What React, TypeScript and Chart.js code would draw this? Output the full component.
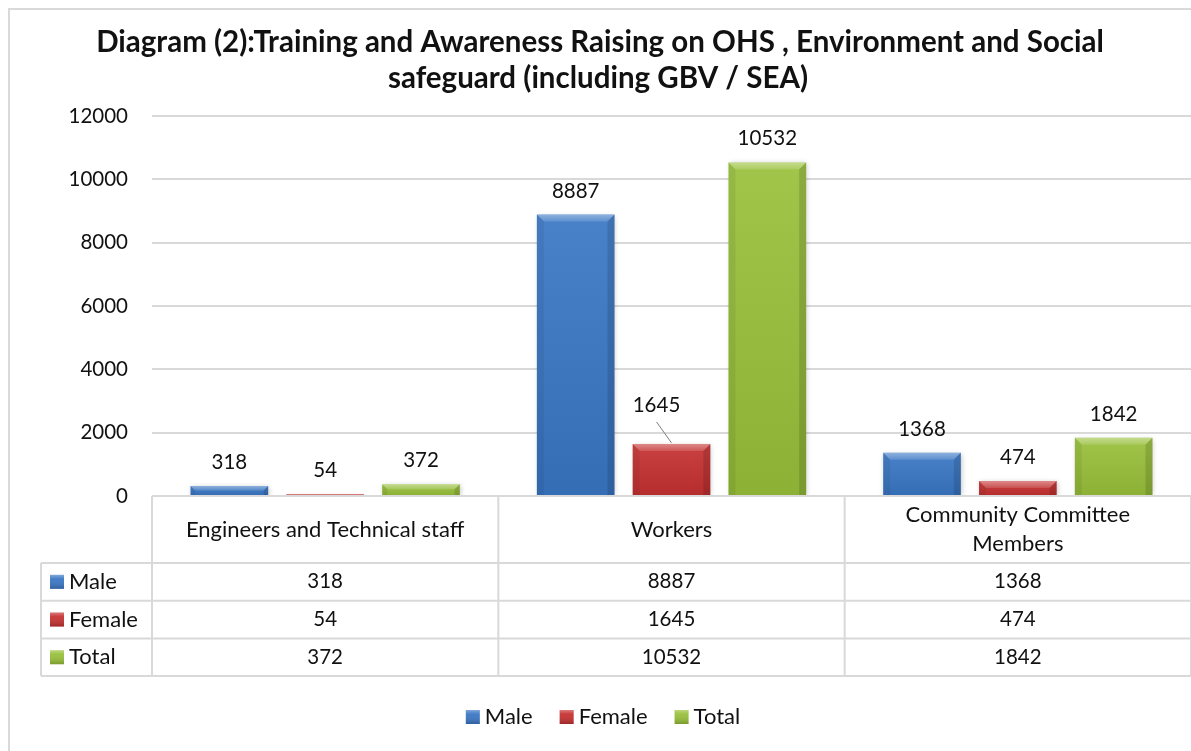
import React, { useEffect, useRef } from "react";
import { Chart, registerables } from "chart.js";

Chart.register(...registerables);

const categories: string[][] = [
  ["Engineers and Technical staff"],
  ["Workers"],
  ["Community Committee", "Members"],
];
const seriesNames = ["Male", "Female", "Total"];
const maleValues = [318, 8887, 1368];
const femaleValues = [54, 1645, 474];
const totalValues = [372, 10532, 1842];
const titleLines = [
  "Diagram (2):Training and Awareness Raising on OHS , Environment and Social",
  "safeguard (including GBV / SEA)",
];
const yMin = 0;
const yMax = 12000;
const yStep = 2000;

const seriesColors = [
  { base: "#3a77c5" },
  { base: "#c63131" },
  { base: "#98c03a" },
];

const FONT = "Lato, 'Open Sans', sans-serif";
const TEXT = "#111111";
const LINE = "#d9d9d9";
const WORD_PX = 22;
const NUM_PX = 20.5;

// label nudge for the one moved data label (series, category) -> dx, dy
const labelNudges: { s: number; c: number; dx: number; dy: number }[] = [
  { s: 1, c: 1, dx: -15, dy: -15 },
];

const decorPlugin = {
  id: "decor",
  beforeDraw(chart: any) {
    const ctx = chart.ctx as CanvasRenderingContext2D;
    ctx.save();
    ctx.fillStyle = "#ffffff";
    ctx.fillRect(0, 0, chart.width, chart.height);
    ctx.strokeStyle = LINE;
    ctx.lineWidth = 2;
    ctx.strokeRect(9, 9, chart.width + 50, chart.height + 50);
    ctx.fillStyle = TEXT;
    ctx.font = `bold 29.5px ${FONT}`;
    ctx.textAlign = "center";
    ctx.textBaseline = "alphabetic";
    ctx.fillText(titleLines[0], 600, 52);
    ctx.fillText(titleLines[1], 598, 88);
    ctx.restore();
  },
  beforeDatasetsDraw(chart: any) {
    const ctx = chart.ctx as CanvasRenderingContext2D;
    ctx.save();
    ctx.shadowColor = "rgba(0,0,0,0.22)";
    ctx.shadowBlur = 5;
    ctx.shadowOffsetX = 1;
    ctx.shadowOffsetY = 1;
  },
  afterDatasetsDraw(chart: any) {
    const ctx = chart.ctx as CanvasRenderingContext2D;
    ctx.restore();
    ctx.save();
    chart.data.datasets.forEach((ds: any, si: number) => {
      const meta = chart.getDatasetMeta(si);
      meta.data.forEach((el: any, ci: number) => {
        const p = el.getProps(["x", "y", "base", "width"], true);
        const l = p.x - p.width / 2;
        const r = p.x + p.width / 2;
        const t = Math.min(p.y, p.base);
        const b = Math.max(p.y, p.base);
        const h = b - t;
        const bv = Math.min(7, h / 2, p.width / 2);
        // face gradient
        const g = ctx.createLinearGradient(0, t, 0, b);
        g.addColorStop(0, "rgba(255,255,255,0.08)");
        g.addColorStop(1, "rgba(0,0,0,0.08)");
        ctx.fillStyle = g;
        ctx.fillRect(l, t, r - l, h);
        const poly = (pts: number[][], fill: string | CanvasGradient) => {
          ctx.beginPath();
          ctx.moveTo(pts[0][0], pts[0][1]);
          for (let k = 1; k < pts.length; k++) ctx.lineTo(pts[k][0], pts[k][1]);
          ctx.closePath();
          ctx.fillStyle = fill;
          ctx.fill();
        };
        const tg = ctx.createLinearGradient(0, t, 0, t + bv);
        tg.addColorStop(0, "rgba(255,255,255,0.38)");
        tg.addColorStop(1, "rgba(255,255,255,0.12)");
        poly([[l, t], [r, t], [r - bv, t + bv], [l + bv, t + bv]], tg);
        poly([[l, t], [l + bv, t + bv], [l + bv, b], [l, b]], "rgba(0,0,0,0.06)");
        poly([[r, t], [r, b], [r - bv, b], [r - bv, t + bv]], "rgba(0,0,0,0.13)");

        // data label
        const nudge = labelNudges.find((n) => n.s === si && n.c === ci);
        const dx = nudge ? nudge.dx : 0;
        const dy = nudge ? nudge.dy : 0;
        const lx = p.x + dx;
        const ly = t - 17 + dy;
        ctx.fillStyle = TEXT;
        ctx.font = `${NUM_PX}px ${FONT}`;
        ctx.textAlign = "center";
        ctx.textBaseline = "alphabetic";
        ctx.fillText(String(ds.data[ci]), lx, ly);
        if (nudge) {
          ctx.strokeStyle = "#7f7f7f";
          ctx.lineWidth = 1;
          ctx.beginPath();
          ctx.moveTo(lx, ly + 10);
          ctx.lineTo(p.x, t - 1);
          ctx.stroke();
        }
      });
    });
    ctx.restore();
  },
  afterDraw(chart: any) {
    const ctx = chart.ctx as CanvasRenderingContext2D;
    const area = chart.chartArea;
    const xs = chart.scales.x;
    const n = categories.length;
    const colW = (area.right - area.left) / n;
    const headTop = area.bottom;
    const headBot = headTop + 67;
    const rowH = 37.7;
    const tableLeft = 41;
    const tableBot = headBot + rowH * seriesNames.length;
    const rows = [maleValues, femaleValues, totalValues];

    ctx.save();
    ctx.strokeStyle = LINE;
    ctx.lineWidth = 2;
    ctx.beginPath();
    ctx.moveTo(area.left, headTop);
    ctx.lineTo(area.right + 5, headTop);
    for (let k = 0; k <= seriesNames.length; k++) {
      const yy = headBot + rowH * k;
      ctx.moveTo(tableLeft, yy);
      ctx.lineTo(area.right + 5, yy);
    }
    for (let c = 0; c <= n; c++) {
      const xx = c < n ? xs.getPixelForValue(c) - colW / 2 : xs.getPixelForValue(n - 1) + colW / 2;
      ctx.moveTo(xx, headTop);
      ctx.lineTo(xx, tableBot);
    }
    ctx.moveTo(tableLeft, headBot);
    ctx.lineTo(tableLeft, tableBot);
    ctx.stroke();

    ctx.fillStyle = TEXT;
    ctx.font = `${WORD_PX}px ${FONT}`;
    ctx.textAlign = "center";
    ctx.textBaseline = "middle";
    categories.forEach((lines, c) => {
      const cx = xs.getPixelForValue(c);
      const cy = (headTop + headBot) / 2;
      const lh = 29;
      lines.forEach((ln, k) => {
        ctx.fillText(ln, cx, cy + (k - (lines.length - 1) / 2) * lh);
      });
    });
    rows.forEach((vals, si) => {
      const cy = headBot + rowH * si + rowH / 2;
      ctx.font = `${NUM_PX}px ${FONT}`;
      ctx.textAlign = "center";
      ctx.fillStyle = TEXT;
      vals.forEach((v, c) => {
        ctx.fillText(String(v), xs.getPixelForValue(c), cy);
      });
      drawKey(ctx, 50, cy - 7, si);
      ctx.font = `${WORD_PX}px ${FONT}`;
      ctx.textAlign = "left";
      ctx.fillStyle = TEXT;
      ctx.fillText(seriesNames[si], 69, cy);
    });

    // legend
    ctx.font = `${WORD_PX}px ${FONT}`;
    const legY = 717;
    const gapBox = 5;
    const gapItem = 27;
    const widths = seriesNames.map((s) => ctx.measureText(s).width);
    const total = widths.reduce((a, w) => a + 14 + gapBox + w, 0) + gapItem * (seriesNames.length - 1);
    let lx = 603 - total / 2;
    ctx.textAlign = "left";
    seriesNames.forEach((s, si) => {
      drawKey(ctx, lx, legY - 7, si);
      ctx.fillStyle = TEXT;
      ctx.fillText(s, lx + 14 + gapBox, legY);
      lx += 14 + gapBox + widths[si] + gapItem;
    });
    ctx.restore();
  },
};

function drawKey(ctx: CanvasRenderingContext2D, x: number, y: number, si: number) {
  const s = 14;
  ctx.save();
  ctx.fillStyle = seriesColors[si].base;
  ctx.fillRect(x, y, s, s);
  const g = ctx.createLinearGradient(0, y, 0, y + s);
  g.addColorStop(0, "rgba(255,255,255,0.35)");
  g.addColorStop(0.3, "rgba(255,255,255,0.05)");
  g.addColorStop(1, "rgba(0,0,0,0.2)");
  ctx.fillStyle = g;
  ctx.fillRect(x, y, s, s);
  ctx.restore();
}

export default function App() {
  const ref = useRef<HTMLCanvasElement | null>(null);
  useEffect(() => {
    if (!ref.current) return;
    const chart = new Chart(ref.current, {
      type: "bar",
      data: {
        labels: categories as any,
        datasets: [
          { label: seriesNames[0], data: maleValues, backgroundColor: seriesColors[0].base },
          { label: seriesNames[1], data: femaleValues, backgroundColor: seriesColors[1].base },
          { label: seriesNames[2], data: totalValues, backgroundColor: seriesColors[2].base },
        ],
      },
      options: {
        responsive: false,
        animation: false,
        devicePixelRatio: 1,
        layout: { padding: { top: 116, left: 0, right: 0, bottom: 0 } },
        datasets: { bar: { categoryPercentage: 0.83, barPercentage: 0.81 } },
        plugins: {
          legend: { display: false },
          title: { display: false },
          tooltip: { enabled: false },
        },
        scales: {
          x: {
            grid: { display: false, drawTicks: false },
            border: { display: false },
            ticks: { display: false },
            afterFit: (s: any) => {
              s.height = 255;
            },
          },
          y: {
            min: yMin,
            max: yMax,
            ticks: {
              stepSize: yStep,
              padding: 24,
              color: TEXT,
              font: { family: FONT, size: NUM_PX },
              callback: (v: any) => String(v),
            },
            grid: { color: LINE, lineWidth: 2, drawTicks: false },
            border: { display: false },
            afterFit: (s: any) => {
              s.width = 152;
            },
          },
        },
      },
      plugins: [decorPlugin],
    });
    return () => chart.destroy();
  }, []);
  return (
    <div style={{ position: "fixed", left: 0, top: 0, width: 1191, height: 751 }}>
      <canvas ref={ref} width={1191} height={751} style={{ display: "block" }} />
    </div>
  );
}
